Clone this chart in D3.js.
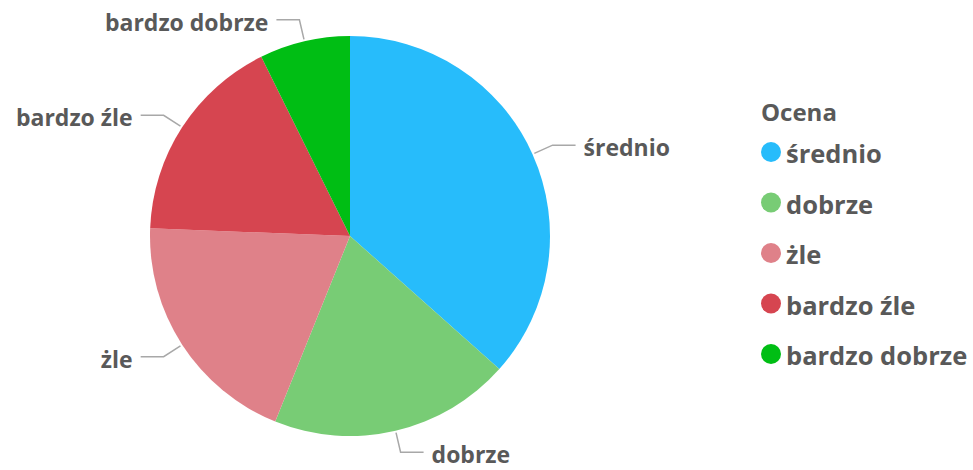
<!DOCTYPE html>
<html>
<head>
<meta charset="utf-8">
<script src="https://cdn.jsdelivr.net/npm/d3@7"></script>
<style>
  body { margin: 0; background: #fff; }
  svg text { font-family: "Open Sans", sans-serif; font-weight: 700; fill: #595959; }
</style>
</head>
<body>
<svg id="chart"></svg>
<script>
const categories = ['średnio', 'dobrze', 'żle', 'bardzo źle', 'bardzo dobrze'];
const values = [15, 8, 8, 7, 3];
const colors = ['#27bcfb', '#78cc75', '#df8189', '#d64550', '#00be14'];
const legendTitle = 'Ocena';

const w = 973;
const h = 470;
const cx = 350;
const cy = 236;
const r = 200;

const svg = d3.select('#chart')
  .attr('width', w)
  .attr('height', h);

const color = d3.scaleOrdinal().domain(categories).range(colors);
const data = categories.map((c, i) => ({ name: c, value: values[i] }));

const pie = d3.pie().sort(null).value(d => d.value);
const arc = d3.arc().innerRadius(0).outerRadius(r);
const arcs = pie(data);

const g = svg.append('g').attr('transform', `translate(${cx}, ${cy})`);

g.selectAll('.slice')
  .data(arcs)
  .join('path')
    .attr('class', 'slice')
    .attr('d', arc)
    .attr('fill', d => color(d.data.name));

// label lines: radial segment then horizontal segment
const len1 = 22;
const len2 = 23;
const labels = g.selectAll('.lbl')
  .data(arcs)
  .join('g')
    .attr('class', 'lbl');

labels.append('polyline')
  .attr('fill', 'none')
  .attr('stroke', '#a8a8a8')
  .attr('stroke-width', 1.5)
  .attr('points', d => {
    const a = (d.startAngle + d.endAngle) / 2;
    const s = Math.sin(a), c = -Math.cos(a);
    const p0 = [s * (r + 2), c * (r + 2)];
    const p1 = [s * (r + len1), c * (r + len1)];
    const dir = s >= 0 ? 1 : -1;
    const p2 = [p1[0] + dir * len2, p1[1]];
    return [p0, p1, p2].map(p => p.join(',')).join(' ');
  });

labels.append('text')
  .attr('font-size', 23)
  .attr('dominant-baseline', 'central')
  .attr('text-anchor', d => Math.sin((d.startAngle + d.endAngle) / 2) >= 0 ? 'start' : 'end')
  .attr('x', d => {
    const a = (d.startAngle + d.endAngle) / 2;
    const s = Math.sin(a);
    const dir = s >= 0 ? 1 : -1;
    return s * (r + len1) + dir * (len2 + 8);
  })
  .attr('y', d => -Math.cos((d.startAngle + d.endAngle) / 2) * (r + len1) + 2)
  .text(d => d.data.name);

// legend
const legend = svg.append('g').attr('transform', 'translate(760, 0)');
legend.append('text')
  .attr('x', 1)
  .attr('y', 111)
  .attr('font-size', 24)
  .attr('dominant-baseline', 'central')
  .text(legendTitle);

const ly = d3.scalePoint().domain(categories).range([152, 354]);
const item = legend.selectAll('.item')
  .data(categories)
  .join('g')
    .attr('class', 'item')
    .attr('transform', d => `translate(0, ${ly(d)})`);
item.append('circle')
  .attr('cx', 11)
  .attr('cy', 0)
  .attr('r', 10)
  .attr('fill', d => color(d));
item.append('text')
  .attr('x', 26)
  .attr('y', 1)
  .attr('font-size', 25.5)
  .attr('dominant-baseline', 'central')
  .text(d => d);
</script>
</body>
</html>
